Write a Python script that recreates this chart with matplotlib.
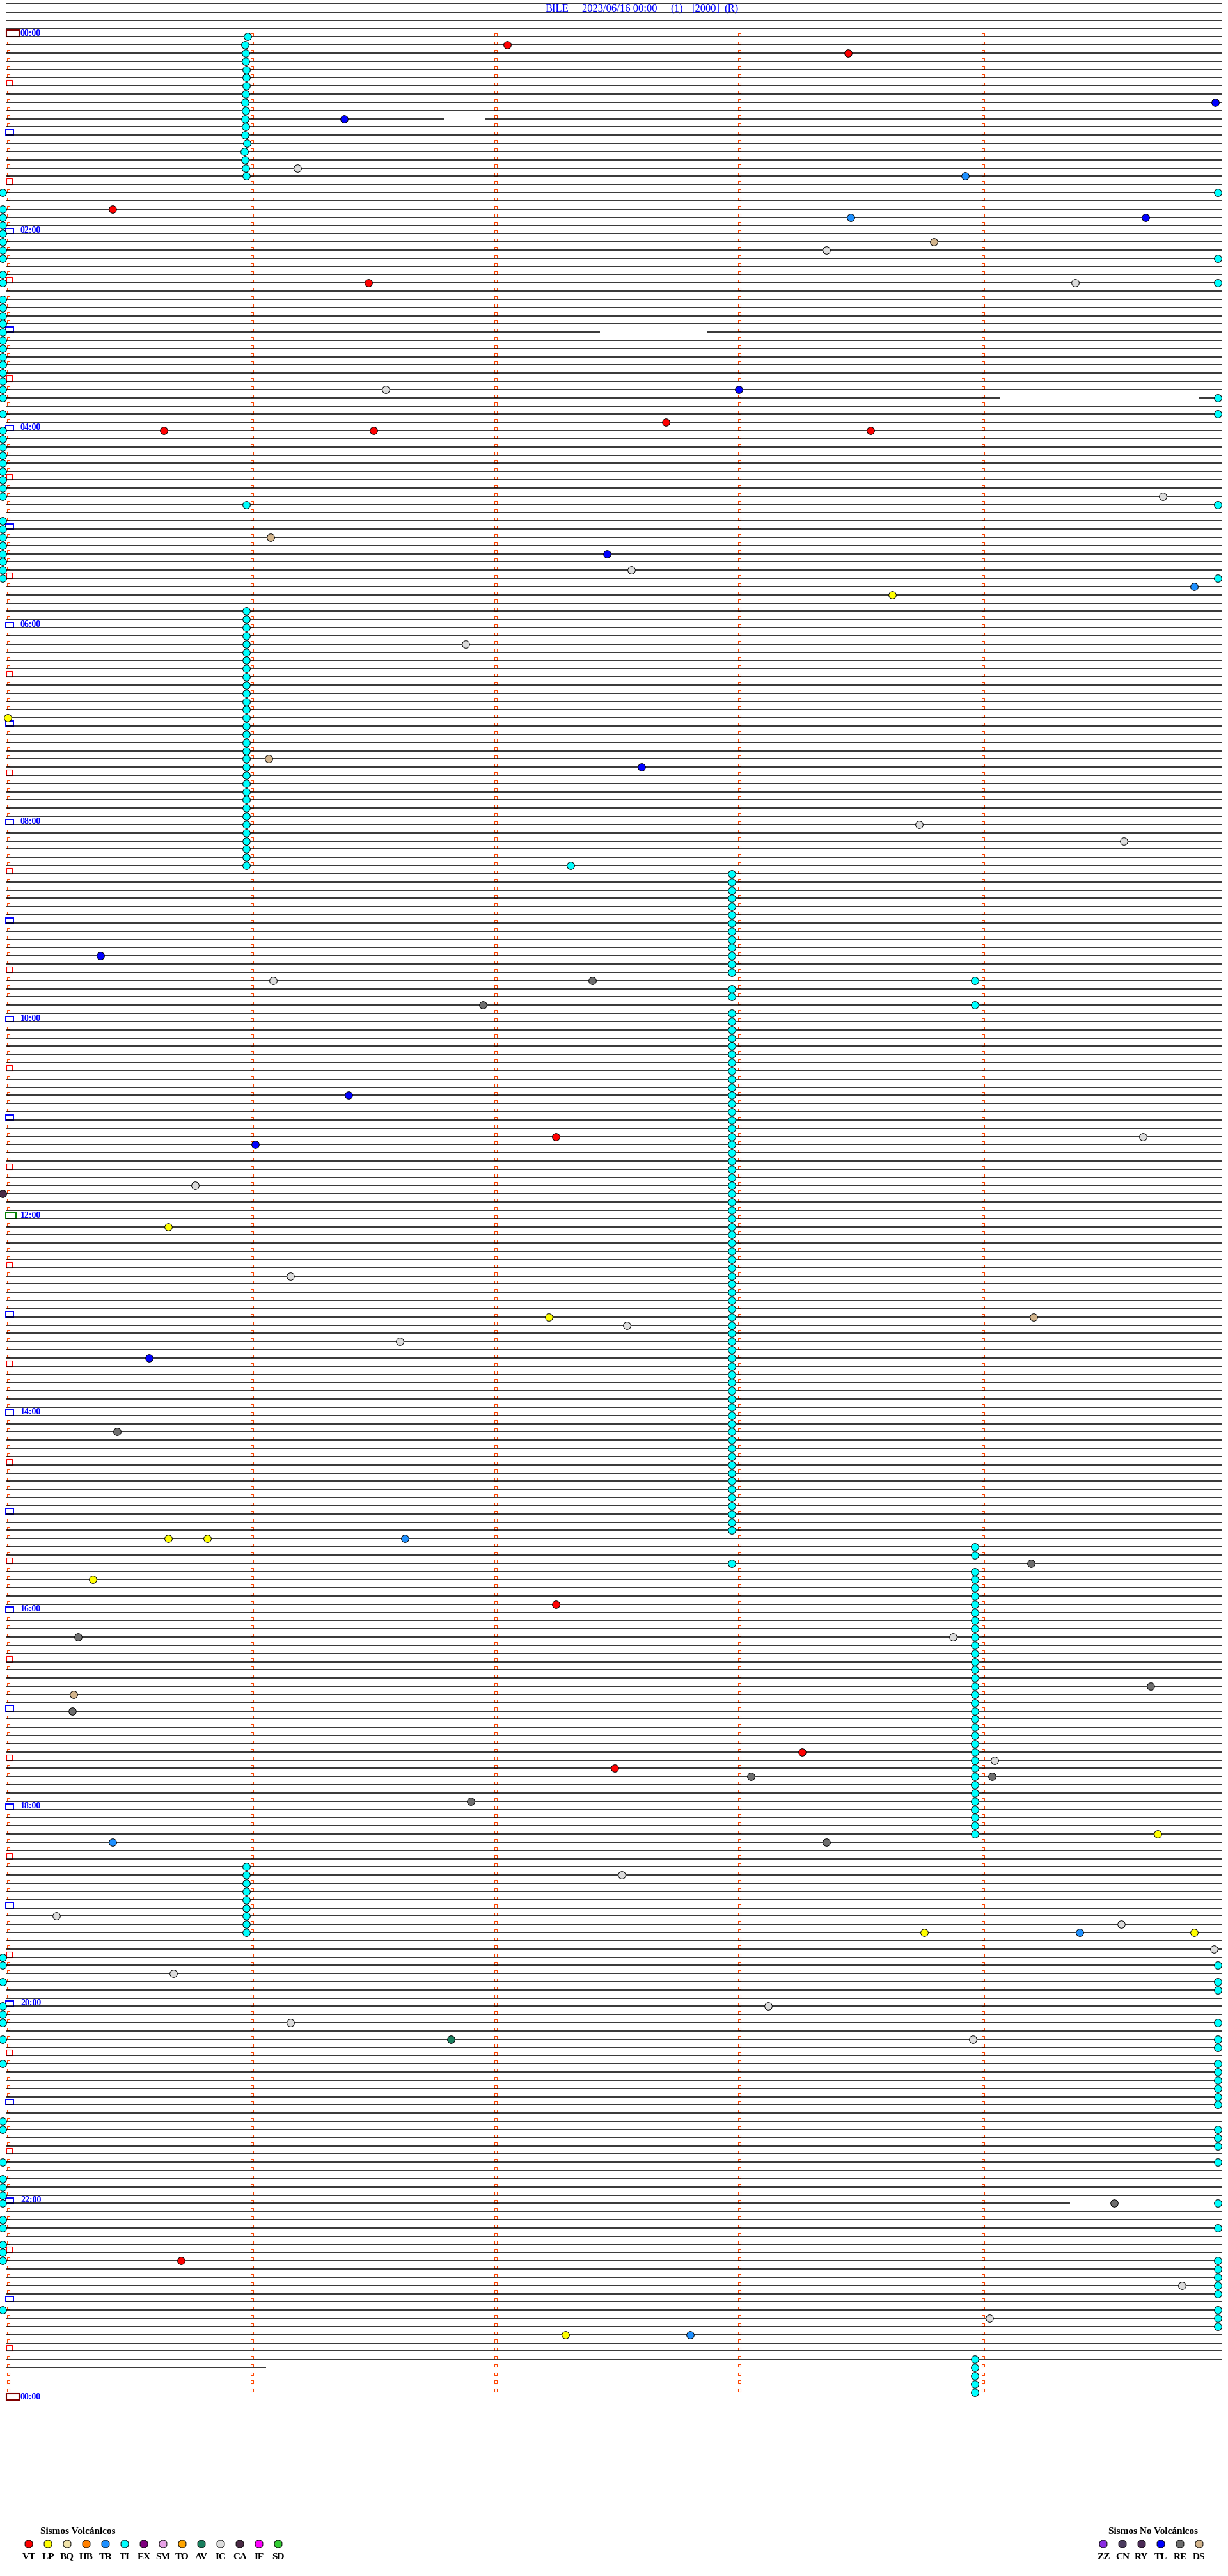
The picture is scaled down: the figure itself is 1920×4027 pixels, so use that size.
import matplotlib
matplotlib.use("Agg")
import matplotlib.pyplot as plt
from matplotlib.patches import Rectangle
from matplotlib.collections import LineCollection

plt.rcParams['font.family'] = ['Liberation Serif', 'DejaVu Serif']

# cabecera
titulo = ["BILE", "2023/06/16 00:00", "(1)", "[2000]", "(R)"]
titulo_x = [853, 910, 1048, 1082, 1132]  # px

# leyenda
volc_cod = ['VT', 'LP', 'BQ', 'HB', 'TR', 'TI', 'EX', 'SM', 'TO', 'AV', 'IC', 'CA', 'IF', 'SD']
volc_col = ['#FF0000', '#FFFF00', '#F0E2A8', '#FF8000', '#1E90FF', '#00FFFF', '#800080',
            '#E8A2E8', '#FFA500', '#1A7F5E', '#DCDCDC', '#4A2A45', '#FF00FF', '#33CC33']
novolc_cod = ['ZZ', 'CN', 'RY', 'TL', 'RE', 'DS']
novolc_col = ['#8A2BE2', '#4B3B5E', '#4A2A55', '#0000FF', '#6E6E6E', '#D2B48C']

# una fila = 5 minutos -> 288 filas por dia
# eventos: (fila, minuto dentro de la fila)
vt = [(1, 2.05), (2, 3.45), (21, 0.43), (30, 1.48), (47, 2.70), (48, 0.64), (48, 1.50),
      (48, 3.54), (134, 2.25), (191, 2.25), (209, 3.26), (211, 2.49), (271, 0.71)]
lp = [(68, 3.63), (83, 0.0), (145, 0.66), (156, 2.22), (183, 0.66), (183, 0.82),
      (188, 0.35), (219, 4.72), (231, 3.76), (231, 4.87), (280, 2.29)]
tr = [(17, 3.93), (22, 3.46), (67, 4.87), (183, 1.63), (220, 0.43), (231, 4.40), (280, 2.80)]
ic = [(16, 1.19), (26, 3.36), (30, 4.38), (43, 1.55), (56, 4.74), (65, 2.56), (74, 1.88),
      (96, 3.74), (98, 4.58), (115, 1.09), (134, 4.66), (140, 0.77), (151, 1.16),
      (157, 2.54), (159, 1.61), (195, 3.88), (210, 4.05), (224, 2.52), (229, 0.20),
      (230, 4.57), (233, 4.95), (236, 0.68), (240, 3.12), (242, 1.16), (244, 3.96),
      (274, 4.82), (278, 4.03)]
tl = [(8, 4.955), (10, 1.38), (22, 4.67), (43, 3.00), (63, 2.46), (89, 2.60), (112, 0.38),
      (129, 1.40), (135, 1.015), (161, 0.58)]
re_ = [(115, 2.40), (118, 1.95), (170, 0.45), (186, 4.20), (195, 0.29), (201, 4.69),
       (204, 0.265), (212, 3.05), (212, 4.04), (215, 1.90), (220, 3.36), (264, 4.54)]
ds = [(25, 3.80), (61, 1.08), (88, 1.07), (156, 4.21), (202, 0.27)]
ca = [(141, -0.02)]
av = [(244, 1.82)]

# TI (tremor) : filas y posicion
ti_a_filas = [0, 1, 2, 3, 4, 5, 6, 7, 8, 9, 10, 11, 12, 13, 14, 15, 16, 17]
ti_a_min = [0.983, 0.975, 0.976, 0.976, 0.979, 0.979, 0.979, 0.977, 0.973, 0.976,
            0.973, 0.976, 0.975, 0.982, 0.972, 0.973, 0.977, 0.979]
ti_izq = [19, 21, 22, 23, 24, 25, 26, 27, 29, 30, 32, 33, 34, 35, 36, 37, 38, 39, 40, 41,
          42, 43, 44, 46, 48, 49, 50, 51, 52, 53, 54, 55, 56, 59, 60, 61, 62, 63, 64, 65,
          66, 234, 235, 237, 240, 241, 242, 244, 247, 254, 255, 259, 261, 262, 263, 264,
          266, 267, 269, 270, 271, 277]
ti_der = [19, 27, 30, 44, 46, 57, 66, 235, 237, 238, 242, 244, 245, 247, 248, 249, 250,
          251, 252, 255, 256, 257, 259, 264, 267, 271, 272, 273, 274, 275, 277, 278, 279]
ti_b = [57, 70, 71, 72, 73, 74, 75, 76, 77, 78, 79, 80, 81, 82, 83, 84, 85, 86, 87, 88,
        89, 90, 91, 92, 93, 94, 95, 96, 97, 98, 99, 100, 101,
        223, 224, 225, 226, 227, 228, 229, 230, 231]
ti_c = [102, 103, 104, 105, 106, 107, 108, 109, 110, 111, 112, 113, 114, 116, 117,
        119, 120, 121, 122, 123, 124, 125, 126, 127, 128, 129, 130, 131, 132, 133, 134,
        135, 136, 137, 138, 139, 140, 141, 142, 143, 144, 145, 146, 147, 148, 149, 150,
        151, 152, 153, 154, 155, 156, 157, 158, 159, 160, 161, 162, 163, 164, 165, 166,
        167, 168, 169, 170, 171, 172, 173, 174, 175, 176, 177, 178, 179, 180, 181, 182, 186]
ti_d = [115, 118, 184, 185, 187, 188, 189, 190, 191, 192, 193, 194, 195, 196, 197, 198,
        199, 200, 201, 202, 203, 204, 205, 206, 207, 208, 209, 210, 211, 212, 213, 214,
        215, 216, 217, 218, 219, 283, 284, 285, 286, 287]
ti_sueltos = [(101, 2.31)]

# huecos en las trazas: (fila, desde, hasta) en minutos
huecos = [(10, 1.79, 1.96), (36, 2.43, 2.87), (44, 4.07, 4.89), (264, 4.36, 4.99)]
ultima_fila, ultima_fin = 284, 1.06

W, H = 1920, 4027
px_min = 381.0
x0_px = 12.0
px_fila = 12.83
y0_px = 57.3
dx = 1.0 / px_min
dy = 1.0 / px_fila

fig = plt.figure(figsize=(W / 100, H / 100), dpi=100)
ax = fig.add_axes([0, 0, 1, 1])
ax.set_xlim(-x0_px / px_min, (W - x0_px) / px_min)
ax.set_ylim((H - y0_px) / px_fila, -y0_px / px_fila)
ax.axis('off')

# trazas horizontales
x_ini, x_fin = -2 * dx, 4.982
segs = []
for r in range(-4, ultima_fila + 1):
    fin = ultima_fin if r == ultima_fila else x_fin
    cortes = [(a, b) for (f, a, b) in huecos if f == r]
    a0 = x_ini
    for a, b in cortes:
        segs.append([(a0, r), (a, r)])
        a0 = b
    if a0 < fin:
        segs.append([(a0, r), (fin, r)])
ax.add_collection(LineCollection(segs, colors='black', linewidths=1.1, zorder=2))

# marcas de minuto
tx, ty = [], []
for r in range(288):
    for k in range(5):
        if k == 0 and r % 6 == 0:
            continue
        tx.append(k + 1 * dx)
        ty.append(r - 3 * dy)
ax.scatter(tx, ty, marker='s', s=10, facecolors='none', edgecolors='#FF4500',
           linewidths=0.75, zorder=1)

# marcas de media hora / hora
for r in range(0, 289, 6):
    if r % 12 == 6:
        ax.add_patch(Rectangle((-2 * dx, r - 9 * dy), 8.5 * dx, 9 * dy, fill=False,
                               edgecolor='#FF0000', lw=0.8, zorder=1.5))
    elif r in (0, 288):
        ax.add_patch(Rectangle((-2 * dx, r - 10.3 * dy), 19.7 * dx, 10.3 * dy, fill=False,
                               edgecolor='#800000', lw=1.5, zorder=1.5))
    elif r == 144:
        ax.add_patch(Rectangle((-2.7 * dx, r - 10 * dy), 16 * dx, 10 * dy, fill=False,
                               edgecolor='#008000', lw=1.4, zorder=1.5))
    else:
        ax.add_patch(Rectangle((-2.7 * dx, r - 8.3 * dy), 11.4 * dx, 8.3 * dy, fill=False,
                               edgecolor='#0000FF', lw=1.4, zorder=1.5))

# etiquetas de hora
for h in range(0, 25, 2):
    ax.text(20 * dx, 12 * h - 1.3 * dy, "%02d:00" % (h % 24), color='#0000FF',
            fontsize=10, fontweight='bold', ha='left', va='baseline', zorder=4)


def pinta(ev, color):
    ax.scatter([e[1] for e in ev], [e[0] for e in ev], s=70, c=color,
               edgecolors='black', linewidths=0.7, zorder=3)


ti = list(zip(ti_a_filas, ti_a_min))
ti += [(r, -0.02) for r in ti_izq]
ti += [(r, 4.966) for r in ti_der]
ti += [(r, 0.979) for r in ti_b]
ti += [(r, 2.971) for r in ti_c]
ti += [(r, 3.969) for r in ti_d]
ti += ti_sueltos

pinta(ti, '#00FFFF')
pinta(ic, '#DCDCDC')
pinta(re_, '#6E6E6E')
pinta(ds, '#D2B48C')
pinta(ca, '#4A2A45')
pinta(av, '#1A7F5E')
pinta(tl, '#0000FF')
pinta(tr, '#1E90FF')
pinta(lp, '#FFFF00')
pinta(vt, '#FF0000')

# titulo
for txt, xp in zip(titulo, titulo_x):
    fig.text(xp / W, 1 - 18.3 / H, txt, color='#0000FF', fontsize=12,
             ha='left', va='baseline')

# leyenda
lax = fig.add_axes([0, 0, 1, 127 / H])
lax.set_xlim(-1.5, 62.5)
lax.set_ylim(4027, 3900)
lax.axis('off')
iv = list(range(len(volc_cod)))
lax.scatter(iv, [3977] * len(iv), marker='8', s=85, c=volc_col,
            edgecolors='black', linewidths=0.7)
for i, c in zip(iv, volc_cod):
    lax.text(i, 3997, c, ha='center', va='center', fontsize=11, fontweight='bold')
lax.text(0.6, 3957, 'Sismos Volcánicos', ha='left', va='center', fontsize=11,
         fontweight='bold')
inv = [56 + j for j in range(len(novolc_cod))]
lax.scatter(inv, [3977] * len(inv), marker='8', s=85, c=novolc_col,
            edgecolors='black', linewidths=0.7)
for i, c in zip(inv, novolc_cod):
    lax.text(i, 3997, c, ha='center', va='center', fontsize=11, fontweight='bold')
lax.text(56.27, 3957, 'Sismos No Volcánicos', ha='left', va='center', fontsize=11,
         fontweight='bold')

fig.savefig('out.png', dpi=100, facecolor='white')
